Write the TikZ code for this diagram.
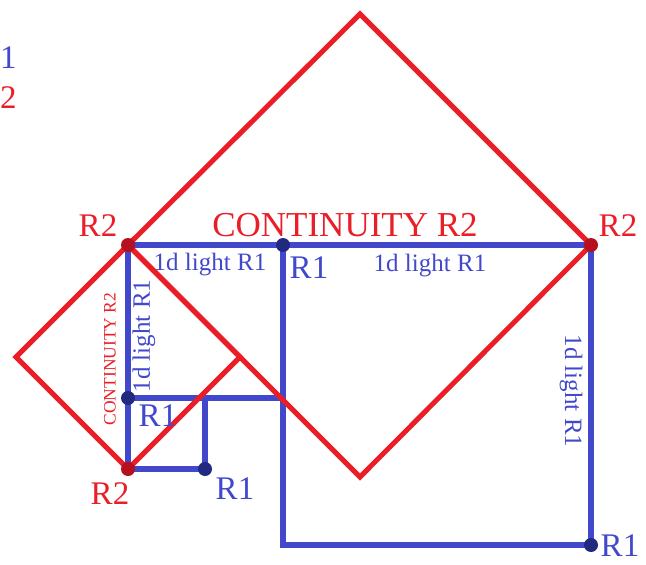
\documentclass[tikz,border=0pt]{standalone}
\usepackage{fontspec}
\setmainfont{Liberation Serif}
\usetikzlibrary{positioning}
\definecolor{rone}{RGB}{66,72,204}
\definecolor{rtwo}{RGB}{234,30,38}
\definecolor{ronedot}{RGB}{34,42,128}
\definecolor{rtwodot}{RGB}{180,16,30}
\tikzset{
    one edge/.style = {draw=rone, line width=6.5pt},
    two edge/.style = {draw=rtwo, line width=5pt},
    one dot/.style = {circle, fill=ronedot, inner sep=0pt, minimum size=14pt},
    two dot/.style = {circle, fill=rtwodot, inner sep=0pt, minimum size=14pt},
    one label/.style = {text=rone, inner sep=0pt, font=\fontsize{33}{36}\selectfont},
    two label/.style = {text=rtwo, inner sep=0pt, font=\fontsize{33}{36}\selectfont},
    light label/.style = {text=rone, inner sep=0pt, font=\fontsize{25}{27}\selectfont},
}

\begin{document}
\begin{tikzpicture}[x=1pt, y=-1pt]
                \useasboundingbox (0, 0) rectangle (646, 565);

                % corners of the red squares
                \coordinate (a2) at (128, 245);
                \coordinate (b2) at (591, 245);
                \coordinate (c2) at (128, 469);
                \coordinate (top) at (360, 14);
                \coordinate (bot) at (360, 477);
                \coordinate (lft) at (16, 357);
                \coordinate (rgt) at (240, 357);

                % corners of the blue squares
                \coordinate (p1) at (283, 245);
                \coordinate (q1) at (128, 398);
                \coordinate (s1) at (205, 469);
                \coordinate (t1) at (591, 545);
                \coordinate (u1) at (283, 545);
                \coordinate (v1) at (283, 398);
                \coordinate (w1) at (205, 398);

                \draw[one edge] (a2) -- (b2) -- (t1) -- (u1) -- (p1);
                \draw[one edge] (a2) -- (c2) -- (s1) -- (w1);
                \draw[one edge] (q1) -- (v1);

                \draw[two edge] (a2) -- (top) -- (b2) -- (bot) -- cycle;
                \draw[two edge] (a2) -- (lft) -- (c2) -- (rgt) -- cycle;

                \node[two dot] (da2) at (a2) {};
                \node[two dot] (db2) at (b2) {};
                \node[two dot] (dc2) at (c2) {};
                \node[one dot] (dp1) at (p1) {};
                \node[one dot] (dq1) at (q1) {};
                \node[one dot] (ds1) at (s1) {};
                \node[one dot] (dt1) at (t1) {};

                \node[two label] (la2) at (98, 226) {R2};
                \node[two label] (lb2) at (618, 226) {R2};
                \node[two label] (lc2) at (110, 494) {R2};
                \node[two label, font=\fontsize{35}{38}\selectfont] (cont) at (345, 225) {CONTINUITY R2};
                \node[two label, font=\fontsize{17.5}{19}\selectfont, rotate=90] (cont small) at (110, 359) {CONTINUITY R2};

                \node[one label] (lp1) at (309, 268) {R1};
                \node[one label] (lq1) at (158, 416) {R1};
                \node[one label] (ls1) at (235, 489) {R1};
                \node[one label] (lt1) at (620, 546) {R1};

                \node[light label] (light a) at (210, 265) {1d light R1};
                \node[light label] (light b) at (430, 266) {1d light R1};
                \node[light label, rotate=90] (light c) at (144, 336) {1d light R1};
                \node[light label, rotate=-90] (light d) at (571, 391) {1d light R1};

                \node[one label, anchor=west] (key1) at (0, 58) {1};
                \node[two label, anchor=west] (key2) at (0, 98) {2};
            \end{tikzpicture}
\end{document}
